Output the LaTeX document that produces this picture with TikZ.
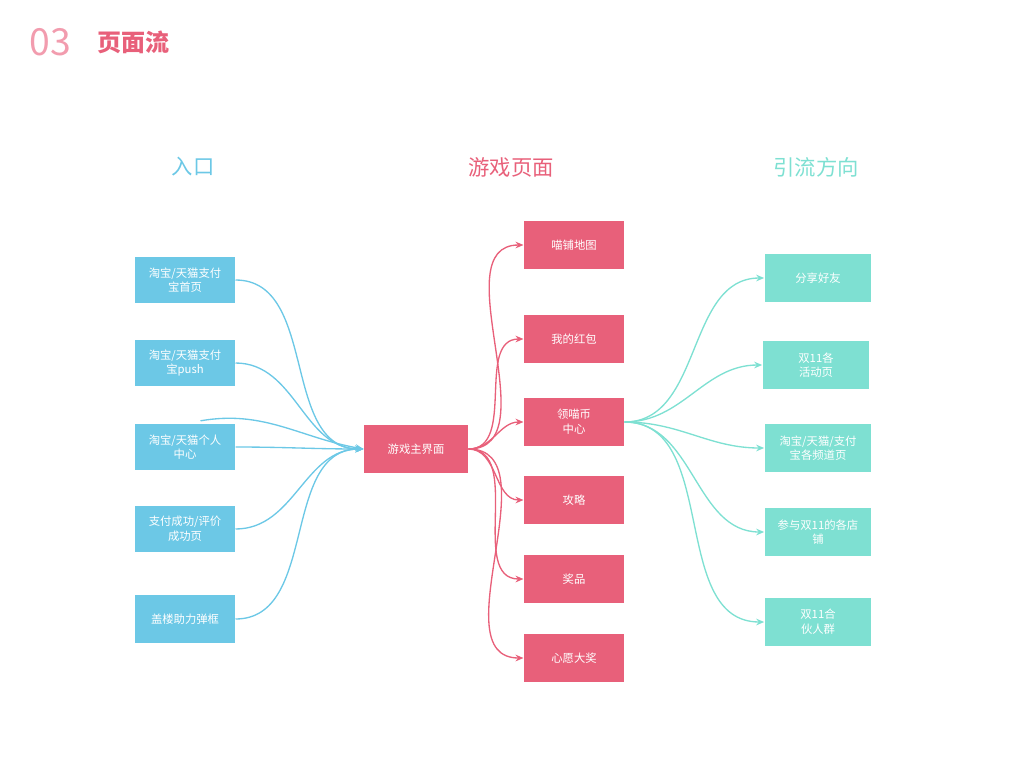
\documentclass[tikz,border=0pt]{standalone}
\usepackage{fontspec}
\setmainfont{Noto Sans CJK SC}
\usetikzlibrary{arrows.meta}
\definecolor{inblue}{HTML}{6CC8E6}
\definecolor{gamered}{HTML}{E8607A}
\definecolor{outgreen}{HTML}{7EE0D2}
\definecolor{numpink}{HTML}{F29CAE}
\tikzset{every picture/.style={line width=0.75pt}}
\tikzset{
  box/.style={minimum width=75pt,minimum height=34pt,inner sep=0.75pt,text=white,font=\fontsize{8.5}{11}\selectfont,align=center},
  inbox/.style={box,fill=inblue},
  gamebox/.style={box,fill=gamered,minimum height=36pt},
  outbox/.style={box,fill=outgreen,minimum width=80pt,minimum height=36pt},
  head/.style={font=\fontsize{16}{18}\selectfont},
  link/.style={-{Stealth[length=6pt,width=5pt]},line width=1pt,out=0,in=180}
}
\begin{document}
\begin{tikzpicture}[x=0.75pt,y=0.75pt,yscale=-1,xscale=1]
\useasboundingbox (0,0) rectangle (1024,768);

% Title
\node (num) at (50,42) [text=numpink,font=\fontsize{28}{30}\selectfont\itshape] {03};
\node (title) at (133,42) [text=gamered,font=\fontsize{18}{20}\selectfont\bfseries] {页面流};

% Headers
\node (hin) at (193,167) [head,text=inblue] {入口};
\node (hgame) at (511,167) [head,text=gamered] {游戏页面};
\node (hout) at (816,167) [head,text=outgreen] {引流方向};

% Entry nodes
\node (in1) at (185,280) [inbox] {淘宝/天猫支付\\宝首页};
\node (in2) at (185,363) [inbox] {淘宝/天猫支付\\宝push};
\node (in3) at (185,447) [inbox] {淘宝/天猫个人\\中心};
\node (in4) at (185,529) [inbox] {支付成功/评价\\成功页};
\node (in5) at (185,619) [inbox,minimum height=36pt] {盖楼助力弹框};

% Game nodes
\node (main) at (416,449) [gamebox,minimum width=78pt] {游戏主界面};
\node (g1) at (574,245) [gamebox] {喵铺地图};
\node (g2) at (574,339) [gamebox] {我的红包};
\node (g3) at (574,422) [gamebox] {领喵币\\中心};
\node (g4) at (574,500) [gamebox] {攻略};
\node (g5) at (574,579) [gamebox] {奖品};
\node (g6) at (574,658) [gamebox] {心愿大奖};

% Outgoing nodes
\node (o1) at (818,278) [outbox] {分享好友};
\node (o2) at (816,365) [outbox] {双11各\\活动页};
\node (o3) at (818,448) [outbox] {淘宝/天猫/支付\\宝各频道页};
\node (o4) at (818,532) [outbox] {参与双11的各店\\铺};
\node (o5) at (818,622) [outbox] {双11合\\伙人群};

% Connections
\foreach \n in {in1,in2,in3,in4,in5}
  \draw [link,inblue] (\n.east) to (main.west);
\draw [link,inblue,in=190] (in3.east) ++(-35,-22pt) coordinate (in3s) (in3.north east) ++(-35,-3) to[out=-10,in=190] (main.west);
\foreach \n in {g1,g2,g3,g4,g5,g6}
  \draw [link,gamered] (main.east) to (\n.west);
\foreach \n in {o1,o2,o3,o4,o5}
  \draw [link,outgreen] (g3.east) to (\n.west);

\end{tikzpicture}
\end{document}
